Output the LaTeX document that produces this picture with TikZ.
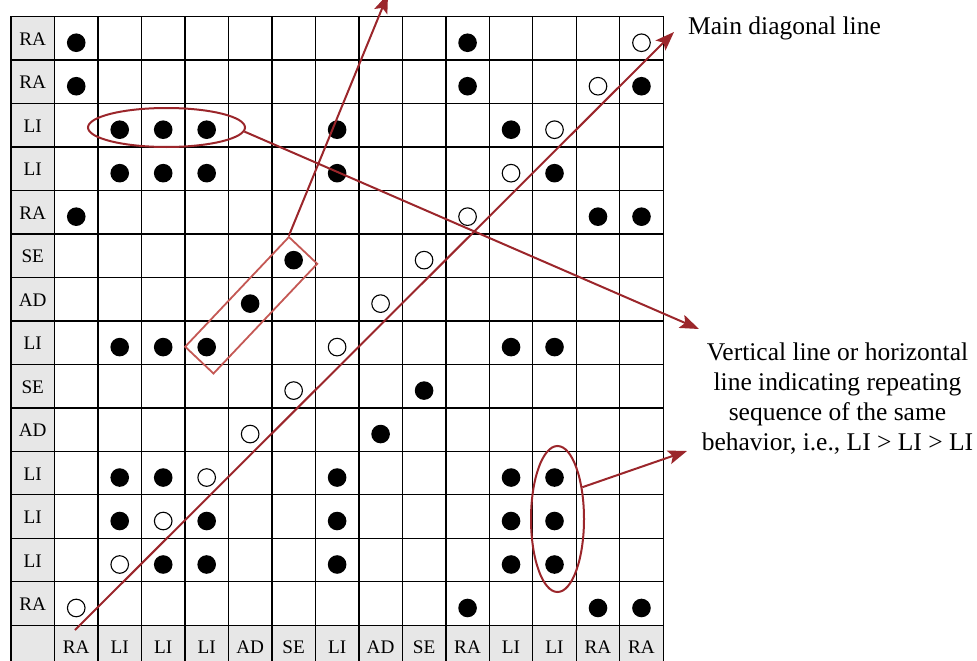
\documentclass[tikz,border=0pt]{standalone}
\usepackage{fontspec}
\setmainfont{Liberation Serif}
\usetikzlibrary{shapes.geometric,arrows.meta}
\definecolor{annred}{RGB}{155,38,43}
\definecolor{boxred}{RGB}{196,88,84}
\definecolor{cellgray}{RGB}{231,231,231}
\begin{document}
\begin{tikzpicture}[x=1pt,y=-1pt,
  gridline/.style={line width=1.4pt},
  lbl/.style={font=\fontsize{19.2}{23}\selectfont, anchor=base, inner sep=0pt},
  odot/.style={draw=black, line width=1.1pt, fill=white},
  annline/.style={draw=annred, line width=2pt},
  annarrow/.style={annline, -{Stealth[length=19pt,width=14pt,inset=4pt]}},
  note/.style={font=\fontsize{25.5}{30}\selectfont, inner sep=0pt}
]
\useasboundingbox (0,0) rectangle (977,661);
\clip (0,0) rectangle (977,661);
\def\cs{43.48}
% shaded label cells
\fill[cellgray] (11,16.5) rectangle (54.5,668.7);
\fill[cellgray] (11,625.2) rectangle (663.2,668.7);
% grid
\foreach \r in {0,...,15} \draw[gridline] (11,16.5+\r*\cs) -- (663.2,16.5+\r*\cs);
\draw[gridline] (11,16.5) -- (11,668.7);
\foreach \c in {0,...,14} \draw[gridline] (54.5+\c*\cs,16.5) -- (54.5+\c*\cs,668.7);
% labels
\foreach \t [count=\r] in {RA,RA,LI,LI,RA,SE,AD,LI,SE,AD,LI,LI,LI,RA}
  \node[lbl] (row\r) at (32.75, 16.5+\r*\cs-\cs/2+7) {\t};
\foreach \t [count=\c] in {RA,LI,LI,LI,AD,SE,LI,AD,SE,RA,LI,LI,RA,RA}
  \node[lbl] (col\c) at (54.5+\c*\cs-\cs/2, 625.2+\cs/2+7) {\t};
% filled dots
\foreach \r/\c in {1/1,1/10,2/1,2/10,2/14,3/2,3/3,3/4,3/7,3/11,4/2,4/3,4/4,4/7,4/12,
  5/1,5/13,5/14,6/6,7/5,8/2,8/3,8/4,8/11,8/12,9/9,10/8,11/2,11/3,11/7,11/11,11/12,
  12/2,12/4,12/7,12/11,12/12,13/3,13/4,13/7,13/11,13/12,14/10,14/13,14/14}
  \fill (54.5+\c*\cs-\cs/2, 16.5+\r*\cs-\cs/2+4.5) circle[radius=9.3];
% open circles (diagonal)
\foreach \r in {1,...,14}
  \draw[odot] (54.5+15*\cs-\r*\cs-\cs/2, 16.5+\r*\cs-\cs/2+4.5) circle[radius=8.8];
% annotations
\node[ellipse, annline, minimum width=157pt, minimum height=39pt, inner sep=0pt] (e1) at (166.5,127.5) {};
\node[ellipse, annline, minimum width=53pt, minimum height=146pt, inner sep=0pt] (e2) at (557.5,519) {};
\node[rectangle, draw=boxred, line width=1.8pt, rotate=46.6, minimum width=151pt, minimum height=39pt, inner sep=0pt] (box) at (251.2,305.25) {};
\coordinate (diagS) at (75,630);
\coordinate (diagE) at (674,32);
\coordinate (upE) at (388,-6);
\coordinate (t1) at (699,329);
\coordinate (t2) at (687,451);
\draw[annarrow] (diagS) -- (diagE);
\draw[annarrow] (box.north east) -- (upE);
\draw[annarrow] (e1.-3) -- (t1);
\draw[annarrow] (e2.52) -- (t2);
\node[note, anchor=base west] (mainlbl) at (688,35) {Main diagonal line};
\node[note, align=center] (notelbl) at (837.5,399) {Vertical line or horizontal\\line indicating repeating\\sequence of the same\\behavior, i.e., LI > LI > LI};
\end{tikzpicture}
\end{document}
